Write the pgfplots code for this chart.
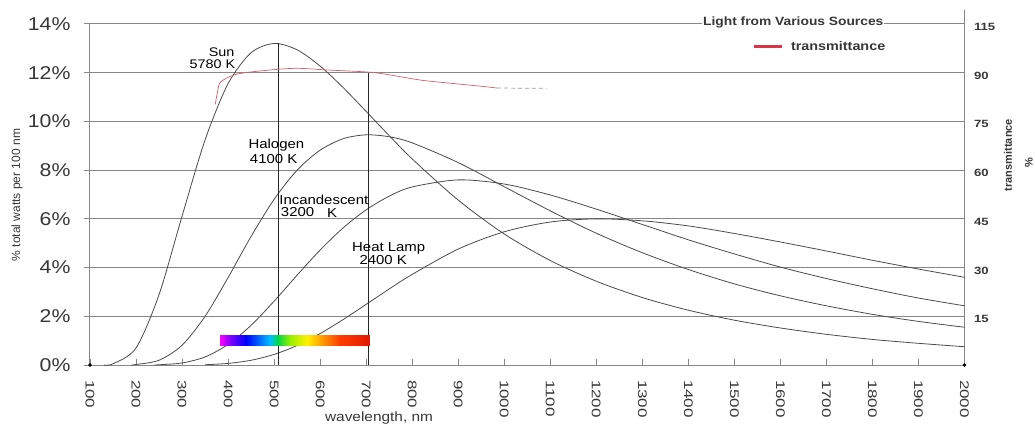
\documentclass[border=0pt]{standalone}
\usepackage{pgfplots}
\pgfplotsset{compat=1.18}
\usepackage{fontspec}
\setmainfont{Liberation Sans}
\definecolor{gridc}{RGB}{135,135,135}
\definecolor{curvec}{RGB}{75,75,75}
\definecolor{txtc}{RGB}{55,55,55}
\definecolor{transc}{RGB}{210,95,110}
\definecolor{legred}{RGB}{215,55,70}
\newcommand{\fs}[1]{\fontsize{#1}{#1}\selectfont}
\newcommand{\hs}[2][1.15]{\scalebox{#1}[1]{#2}}
\newcommand{\rl}[1]{\scalebox{1.25}[1]{#1}}
\pgfplotsset{colormap={spec}{rgb255=(255,0,255) rgb255=(130,0,255) rgb255=(0,0,255) rgb255=(0,190,255) rgb255=(0,215,70) rgb255=(150,240,0) rgb255=(255,240,0) rgb255=(255,150,0) rgb255=(255,60,0) rgb255=(225,25,0)}}
\begin{document}
\begin{tikzpicture}
\useasboundingbox (-90pt,-58pt) rectangle (945pt,365pt);
\begin{axis}[
 at={(0pt,0pt)}, anchor=south west, scale only axis,
 width=874.5pt, height=341pt,
 xmin=100, xmax=2000, ymin=0, ymax=14,
 clip mode=individual,
 axis line style={draw=gridc, line width=1pt},
 ymajorgrids, grid style={draw=gridc, line width=1pt},
 xtick={100,200,...,2000}, ytick={0,2,...,14},
 tick align=inside, major tick length=6pt,
 xtick pos=bottom, ytick pos=left,
 ytick style={draw=gridc, line width=1pt, xshift=-6pt},
 xtick style={draw=gridc, line width=0.8pt},
 xticklabel={\hs[1.36]{\fs{12.5}\pgfmathprintnumber[fixed,precision=0,1000 sep={},assume math mode=true]{\tick}}},
 xticklabel style={rotate=-90, anchor=west, text=txtc},
 xticklabel shift=11.5pt,
 yticklabel={\hs{\fs{18.5}\pgfmathprintnumber[assume math mode=true]{\tick}\%}},
 yticklabel style={text=txtc},
 yticklabel shift=16pt,
 legend style={at={(rel axis cs:0.757,0.9334)}, anchor=west, draw=none, fill=none, inner sep=0pt, outer sep=0pt, nodes={inner sep=0pt, text=txtc}},
 legend image code/.code={\draw[#1] (0pt,0pt)--(28pt,0pt);},
]
% Sun 5780 K
\addplot[draw=curvec, line width=0.8pt, smooth, forget plot] coordinates {
(130,0) (150,0.05) (200,0.70) (250,2.89) (300,6.11) (350,9.24) (400,11.55) (450,12.82) (500,13.20) (550,12.94) (600,12.27) (650,11.39) (700,10.41) (750,9.42) (800,8.46) (900,6.77) (1000,5.38) (1100,4.29) (1200,3.44) (1300,2.77) (1400,2.25) (1500,1.84) (1600,1.52) (1700,1.26) (1800,1.05) (1900,0.89) (2000,0.75)};
% Halogen 4100 K
\addplot[draw=curvec, line width=0.8pt, smooth, forget plot] coordinates {
(190,0) (200,0.02) (250,0.195) (300,0.81) (350,2.00) (400,3.59) (450,5.28) (500,6.80) (550,8.00) (600,8.82) (650,9.29) (700,9.45) (750,9.37) (800,9.12) (900,8.31) (1000,7.32) (1100,6.33) (1200,5.41) (1300,4.61) (1400,3.92) (1500,3.33) (1600,2.84) (1700,2.43) (1800,2.08) (1900,1.79) (2000,1.55)};
% Incandescent 3200 K
\addplot[draw=curvec, line width=0.8pt, smooth, forget plot] coordinates {
(240,0) (250,0.01) (300,0.084) (350,0.33) (400,0.845) (450,1.63) (500,2.62) (550,3.69) (600,4.72) (650,5.63) (700,6.37) (750,6.93) (800,7.31) (900,7.60) (1000,7.43) (1100,6.98) (1200,6.40) (1300,5.77) (1400,5.14) (1500,4.56) (1600,4.02) (1700,3.55) (1800,3.13) (1900,2.75) (2000,2.43)};
% Heat lamp 2400 K
\addplot[draw=curvec, line width=0.8pt, smooth, forget plot] coordinates {
(350,0.01) (400,0.066) (450,0.195) (500,0.435) (550,0.80) (600,1.29) (650,1.865) (700,2.49) (750,3.12) (800,3.72) (900,4.76) (1000,5.47) (1100,5.87) (1200,6.00) (1300,5.92) (1400,5.71) (1500,5.40) (1600,5.05) (1700,4.68) (1800,4.30) (1900,3.94) (2000,3.60)};
% vertical markers
\addplot[draw=black!85, line width=1pt, forget plot] coordinates {(509,0) (509,13.2)};
\addplot[draw=black!85, line width=1pt, forget plot] coordinates {(705,0) (705,12.0)};
% transmittance
\addplot[draw=transc, line width=0.7pt, smooth, forget plot] coordinates {
(372,10.7) (378,11.3) (382,11.58) (397,11.78) (421,11.95) (469,12.07) (545,12.18) (617,12.11) (719,12.00) (817,11.70) (888,11.56) (962,11.42) (984,11.37)};
\addplot[draw=gray!80, line width=0.7pt, dash pattern=on 4pt off 3pt, forget plot] coordinates {
(984,11.37) (1010,11.37) (1034,11.36) (1060,11.36) (1092,11.36)};
\addlegendimage{draw=legred, line width=3pt}
\addlegendentry{\hspace*{8pt}\hs{\fs{12.5}\bfseries transmittance}}
% end dots
\addplot[only marks, mark=*, mark size=1.5pt, black, forget plot] coordinates {(100,0) (2000,0)};
% spectrum bar
\addplot[surf, shader=interp, mesh/rows=2, colormap name=spec, point meta=explicit, point meta min=0, point meta max=9, forget plot] table[meta=c] {
x y c
383 0.82 0
404 0.82 1
440 0.82 2
491 0.82 3
509 0.82 4
535 0.82 5
571 0.82 6
607 0.82 7
643 0.82 8
708 0.82 9
383 1.23 0
404 1.23 1
440 1.23 2
491 1.23 3
509 1.23 4
535 1.23 5
571 1.23 6
607 1.23 7
643 1.23 8
708 1.23 9
};
% curve labels
\node[font=\fs{12.5}, text=black, inner sep=0pt] at (axis cs:386,12.86) {\hs{Sun}};
\node[font=\fs{12.5}, text=black, inner sep=0pt] at (axis cs:366,12.36) {\hs{5780 K}};
\node[font=\fs{13}, text=black, inner sep=0pt] at (axis cs:505,9.01) {\hs{Halogen}};
\node[font=\fs{13}, text=black, inner sep=0pt] at (axis cs:499,8.46) {\hs{4100 K}};
\node[font=\fs{13}, text=black, inner sep=0pt] at (axis cs:608,6.79) {\hs{Incandescent}};
\node[font=\fs{13}, text=black, inner sep=0pt] at (axis cs:551,6.28) {\hs{3200}};
\node[font=\fs{13}, text=black, inner sep=0pt] at (axis cs:626,6.24) {\hs{K}};
\node[font=\fs{13}, text=black, inner sep=0pt] at (axis cs:749,4.80) {\hs{Heat Lamp}};
\node[font=\fs{13}, text=black, inner sep=0pt] at (axis cs:737,4.31) {\hs{2400 K}};
% title
\node[anchor=base west, fill=white, inner sep=1pt, font=\fs{12}\bfseries, text=txtc] at (rel axis cs:0.6998,0.9956) {\hs{Light from Various Sources}};
% axis labels
\node[rotate=90, font=\fs{12}, text=txtc] at (rel axis cs:-0.0835,0.4985) {\% total watts per 100 nm};
\node[anchor=base, font=\fs{13.4}, text=txtc] at (rel axis cs:0.3305,0) [yshift=-56.5pt] {\hs{wavelength, nm}};
\node[rotate=90, font=\fs{11}\bfseries, text=txtc] at (rel axis cs:1.0497,0.6158) {transmittance};
\node[rotate=90, font=\fs{11}\bfseries, text=txtc] at (rel axis cs:1.0737,0.5924) {\%};
\draw[gridc, line width=1pt] (rel axis cs:1,1) -- (rel axis cs:1,1.04);
\end{axis}
\begin{axis}[
 at={(0pt,0pt)}, anchor=south west, scale only axis,
 width=874.5pt, height=341pt,
 xmin=100, xmax=2000, ymin=0, ymax=14,
 axis x line=none, axis y line*=right, axis line style={draw=none},
 ytick={2,4,...,14}, yticklabels={\rl{15},\rl{30},\rl{45},\rl{60},\rl{75},\rl{90},\rl{115}},
 major tick length=0pt,
 yticklabel style={font=\fs{10.5}\bfseries, text=txtc, anchor=west, yshift=-3pt},
 yticklabel shift=6pt,
]
\addplot[draw=none] coordinates {(100,0) (2000,14)};
\end{axis}
\end{tikzpicture}
\end{document}
